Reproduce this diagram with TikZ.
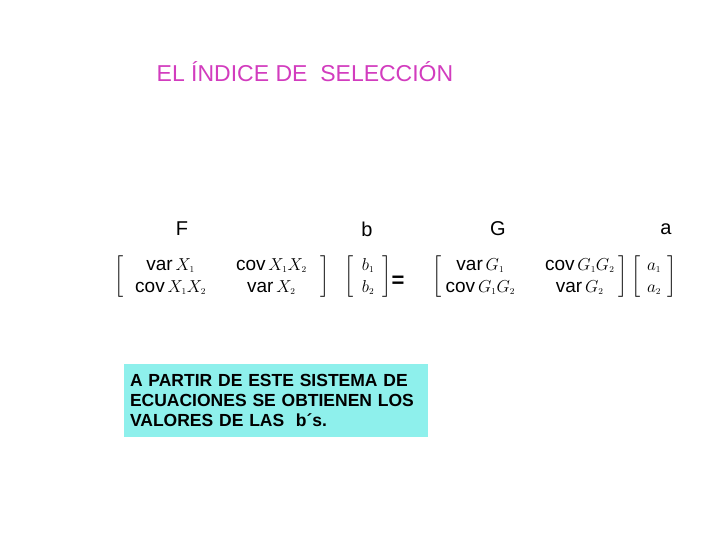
\documentclass[tikz,border=0pt]{standalone}
\usepackage{amsmath}
\usepackage{fontspec}
\setmainfont{Liberation Sans}
\newcommand{\mv}{\mathrm{var}\,}
\newcommand{\mc}{\mathrm{cov}\,}
\begin{document}
\begin{tikzpicture}[x=1pt,y=-1pt,
  lbl/.style={font=\fontsize{20}{24}\selectfont},
  mat/.style={font=\fontsize{19}{22}\selectfont, inner sep=0pt}]
\useasboundingbox (0,0) rectangle (720,540);
\node[font=\fontsize{23}{26}\selectfont, text={rgb,255:red,210;green,60;blue,190}] (title) at (305,72) {EL ÍNDICE DE \ SELECCIÓN};
\node[lbl] (F) at (182,229) {F};
\node[lbl] (b) at (367,229) {b};
\node[lbl] (G) at (498,229) {G};
\node[lbl] (a) at (666,229) {a};
\node[mat] (FM) at (222,277) {$\left[\begin{array}{@{\hspace{12pt}}c@{\hspace{30pt}}c@{\hspace{14pt}}}\mv X_{\scriptscriptstyle 1} & \mc X_{\scriptscriptstyle 1}X_{\scriptscriptstyle 2}\\ \mc X_{\scriptscriptstyle 1}X_{\scriptscriptstyle 2} & \mv X_{\scriptscriptstyle 2}\end{array}\right]$};
\node[mat] (bV) at (368,277) {$\left[\begin{array}{@{\hspace{8pt}}c@{\hspace{8pt}}}b_{\scriptscriptstyle 1}\\ b_{\scriptscriptstyle 2}\end{array}\right]$};
\node[mat,font=\fontsize{22}{24}\selectfont\bfseries] (eq) at (398,282) {=};
\node[mat] (GM) at (530,277) {$\left[\begin{array}{@{\hspace{4pt}}c@{\hspace{30pt}}c@{\hspace{4pt}}}\mv G_{\scriptscriptstyle 1} & \mc G_{\scriptscriptstyle 1}G_{\scriptscriptstyle 2}\\ \mc G_{\scriptscriptstyle 1}G_{\scriptscriptstyle 2} & \mv G_{\scriptscriptstyle 2}\end{array}\right]$};
\node[mat] (aV) at (654,277) {$\left[\begin{array}{@{\hspace{6pt}}c@{\hspace{6pt}}}a_{\scriptscriptstyle 1}\\ a_{\scriptscriptstyle 2}\end{array}\right]$};
\node[fill={rgb,255:red,142;green,240;blue,236}, minimum height=73pt, inner sep=6pt,
  text width=292pt, align=left, font=\fontsize{17.5}{20}\selectfont\bfseries] (box) at (276,400.5)
  {A PARTIR DE ESTE SISTEMA DE\\ ECUACIONES SE OBTIENEN LOS\\ VALORES DE LAS \ b´s.};
\end{tikzpicture}
\end{document}
